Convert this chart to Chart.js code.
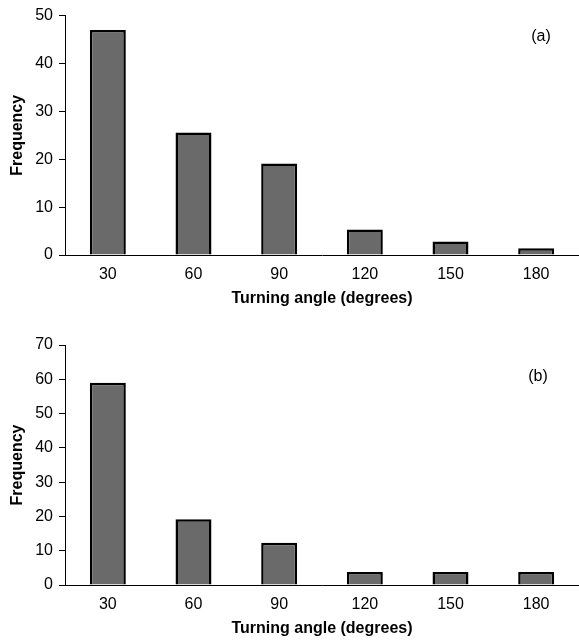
<!DOCTYPE html>
<html>
<head>
<meta charset="utf-8">
<script src="https://cdn.jsdelivr.net/npm/chart.js@4.4.1/dist/chart.umd.min.js"></script>
<style>
  html, body { margin: 0; padding: 0; background: #fff; }
  body { width: 579px; height: 642px; position: relative; overflow: hidden; }
  .panel { position: absolute; left: 0; width: 579px; }
  #pa { top: 0; height: 308px; }
  #pb { top: 320px; height: 318px; }
</style>
</head>
<body>
<div class="panel" id="pa"><canvas id="ca"></canvas></div>
<div class="panel" id="pb"><canvas id="cb"></canvas></div>
<script>
const angles = ['30', '60', '90', '120', '150', '180'];
const freqA = [47, 25.6, 19.1, 5.3, 2.8, 1.4];
const freqB = [59, 19.2, 12.3, 3.8, 3.8, 3.8];
const yMaxA = 50;
const yMaxB = 70;
const yStep = 10;
const xTitle = 'Turning angle (degrees)';
const yTitle = 'Frequency';

const FONT = "'Liberation Sans', Arial, Helvetica, sans-serif";

const panelLabel = {
  id: 'panelLabel',
  afterDraw(chart, args, opts) {
    const ctx = chart.ctx;
    ctx.save();
    ctx.font = '16px ' + FONT;
    ctx.fillStyle = '#000';
    ctx.textAlign = 'center';
    ctx.textBaseline = 'middle';
    ctx.fillText(opts.text, opts.x, opts.y);
    ctx.restore();
  }
};

function makeChart(id, data, yMax, label, labelX, labelY, padTop) {
  return new Chart(document.getElementById(id), {
    type: 'bar',
    data: {
      labels: angles,
      datasets: [{
        data: data,
        backgroundColor: '#6a6a6a',
        borderColor: '#000',
        borderWidth: 2.5,
        barPercentage: 0.42,
        categoryPercentage: 1.0
      }]
    },
    plugins: [panelLabel],
    options: {
      responsive: true,
      maintainAspectRatio: false,
      animation: false,
      layout: { padding: { top: padTop, right: 0, left: 0, bottom: 0 } },
      plugins: {
        legend: { display: false },
        tooltip: { enabled: false },
        panelLabel: { text: label, x: labelX, y: labelY }
      },
      scales: {
        x: {
          afterFit(scale) { scale.height = 53; },
          grid: { display: false },
          border: { display: true, color: '#000', width: 1 },
          ticks: { color: '#000', font: { family: FONT, size: 16 }, padding: 2, maxRotation: 0 },
          title: { display: true, text: xTitle, color: '#000', font: { family: FONT, size: 16, weight: 'bold' }, padding: { top: 0, bottom: 0 } }
        },
        y: {
          min: 0,
          max: yMax,
          afterFit(scale) { scale.width = 65; },
          grid: { display: true, drawOnChartArea: false, drawTicks: true, tickLength: 6, color: '#000', lineWidth: 1 },
          border: { display: true, color: '#000', width: 1 },
          ticks: { stepSize: yStep, color: '#000', font: { family: FONT, size: 16 }, padding: 6 },
          title: { display: true, text: yTitle, color: '#000', font: { family: FONT, size: 16, weight: 'bold' }, padding: { top: 8, bottom: 0 } }
        }
      }
    }
  });
}

makeChart('ca', freqA, yMaxA, '(a)', 541, 37, 15);
makeChart('cb', freqB, yMaxB, '(b)', 538, 57, 25);
</script>
</body>
</html>
